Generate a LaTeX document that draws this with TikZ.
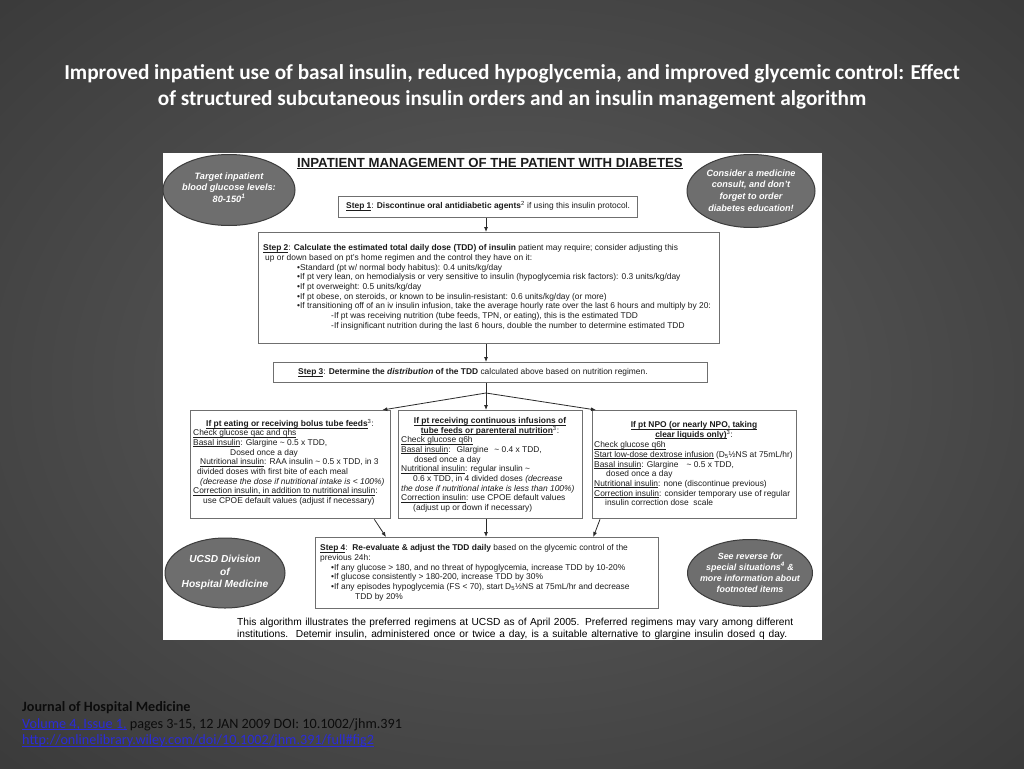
\documentclass[tikz,border=0pt]{standalone}
\usepackage{fontspec}
\setmainfont{Liberation Sans}
\newfontfamily\calib{Carlito}
\usetikzlibrary{shapes.geometric,arrows.meta,calc}
\definecolor{bgA}{HTML}{5E5E5E}
\definecolor{bgB}{HTML}{2C2C2C}
\definecolor{bgC}{HTML}{0E0E0E}
\definecolor{tx}{HTML}{1C1C1C}
\definecolor{boxc}{HTML}{6F6F6F}
\definecolor{arc}{HTML}{2A2A2A}
\definecolor{ellf}{HTML}{6E6E6E}
\definecolor{ellc}{HTML}{3C3C3C}
\definecolor{linkc}{HTML}{2B2BD8}
\definecolor{jtx}{HTML}{0C0C0C}
\pgfdeclareradialshading{bgshade}{\pgfpoint{0bp}{0bp}}{color(0bp)=(bgA); color(50bp)=(bgB); color(72bp)=(bgC)}
\newcommand{\dfnt}{\fontsize{8.4}{9.7}\selectfont}
\newcommand{\efnt}{\fontsize{9.2}{11.4}\selectfont\bfseries\itshape}
\newsavebox{\ulbox}
\newcommand{\myul}[1]{\sbox{\ulbox}{#1}\rlap{\rule[-1.3pt]{\wd\ulbox}{0.5pt}}\usebox{\ulbox}}
\newcommand{\sups}[1]{\smash{\textsuperscript{#1}}}
\newcommand{\st}{\rule{0pt}{6.5pt}}
\begin{document}
\begin{tikzpicture}[x=1pt,y=-1pt,
  bx/.style={draw=boxc, line width=1.3pt, fill=white, inner sep=0pt, anchor=north west},
  txt/.style={inner sep=0pt, anchor=north west, align=left, font=\dfnt, text=tx},
  ttl/.style={inner sep=0pt, anchor=north, align=center, font=\dfnt, text=tx},
  ell/.style={ellipse, draw=ellc, line width=1pt, fill=ellf, inner sep=0pt},
  elltxt/.style={inner sep=0pt, align=center, text=white, font=\efnt},
  arr/.style={draw=arc, line width=0.8pt, -{Latex[length=5pt,width=4pt]}},
  ln/.style={draw=arc, line width=0.8pt}]
\useasboundingbox (0,0) rectangle (1024,768);
\shade[shading=bgshade] (0,0) rectangle (1024,768);

% slide title
\node[inner sep=0pt, anchor=north, align=center, text=white, font=\calib\bfseries\fontsize{21.3}{26}\selectfont] (title) at (512,63)
 {\rule{0pt}{16pt}Improved inpatient use of basal insulin, reduced hypoglycemia, and improved glycemic control: Effect\\
 of structured subcutaneous insulin orders and an insulin management algorithm};

% white panel
\node[fill=white, inner sep=0pt, anchor=north west, minimum width=659pt, minimum height=487pt] (panel) at (163,153) {};

\node[inner sep=0pt, anchor=base west, text=tx, font=\fontsize{13.2}{15}\selectfont\bfseries] (ptitle) at (297,167.5)
 {\myul{INPATIENT MANAGEMENT OF THE PATIENT WITH DIABETES}};

% ellipses
\node[ell, minimum width=132pt, minimum height=71pt] (e1) at (229,190) {};
\node[elltxt] (e1t) at (229,187.5) {Target inpatient\\blood glucose levels:\\80-150\sups{1}};
\node[ell, minimum width=128pt, minimum height=73pt] (e2) at (751,191) {};
\node[elltxt, font=\fontsize{9.1}{11.7}\selectfont\bfseries\itshape] (e2t) at (751,190.5) {Consider a medicine\\consult, and don't\\forget to order\\diabetes education!};
\node[ell, minimum width=120pt, minimum height=70pt] (e3) at (225,573) {};
\node[elltxt, font=\fontsize{10.2}{12.5}\selectfont\bfseries\itshape] (e3t) at (225,572.5) {UCSD Division\\of\\Hospital Medicine};
\node[ell, minimum width=125pt, minimum height=67pt] (e4) at (750,573) {};
\node[elltxt, font=\fontsize{8.9}{11}\selectfont\bfseries\itshape] (e4t) at (750,572.5) {See reverse for\\special situations\sups{4} \&\\more information about\\footnoted items};

% step boxes
\node[bx, minimum width=299pt, minimum height=21pt] (s1) at (338,196) {};
\node[bx, minimum width=461pt, minimum height=111pt] (s2) at (258,232) {};
\node[bx, minimum width=434pt, minimum height=20pt] (s3) at (273,362) {};
\node[bx, minimum width=200pt, minimum height=108pt] (lb) at (190,410) {};
\node[bx, minimum width=184pt, minimum height=108pt] (mb) at (398,410) {};
\node[bx, minimum width=204pt, minimum height=108pt] (rb) at (592,410) {};
\node[bx, minimum width=343pt, minimum height=71pt] (s4) at (315,537) {};

% texts
\node[txt] (s1t) at (346,202) {\st\myul{\textbf{Step 1}}: \textbf{Discontinue oral antidiabetic agents}\sups{2} if using this insulin protocol.};

\node[txt] (s2t) at (263,244) {\st\myul{\textbf{Step 2}}: \textbf{Calculate the estimated total daily dose (TDD) of insulin} patient may require; consider adjusting this\\
\hspace*{2pt}up or down based on pt's home regimen and the control they have on it:\\
\hspace*{34pt}•Standard (pt w/ normal body habitus): 0.4 units/kg/day\\
\hspace*{34pt}•If pt very lean, on hemodialysis or very sensitive to insulin (hypoglycemia risk factors): 0.3 units/kg/day\\
\hspace*{34pt}•If pt overweight: 0.5 units/kg/day\\
\hspace*{34pt}•If pt obese, on steroids, or known to be insulin-resistant: 0.6 units/kg/day (or more)\\
\hspace*{34pt}•If transitioning off of an iv insulin infusion, take the average hourly rate over the last 6 hours and multiply by 20:\\
\hspace*{68pt}-If pt was receiving nutrition (tube feeds, TPN, or eating), this is the estimated TDD\\
\hspace*{68pt}-If insignificant nutrition during the last 6 hours, double the number to determine estimated TDD};

\node[txt] (s3t) at (298,368) {\st\myul{\textbf{Step 3}}: \textbf{Determine the \textit{distribution} of the TDD} calculated above based on nutrition regimen.};

\node[ttl] (lbh) at (290,420) {\st\myul{\textbf{If pt eating or receiving bolus tube feeds}}\sups{3}:};
\node[txt] (lbt) at (193,429) {\st\myul{Check glucose qac and qhs}\\
\myul{Basal insulin}: Glargine \textasciitilde\ 0.5 x TDD,\\
\hspace*{37pt}Dosed once a day\\
\hspace*{7pt}\myul{Nutritional insulin}: RAA insulin \textasciitilde\ 0.5 x TDD, in 3\\
\hspace*{4pt}divided doses with first bite of each meal\\
\hspace*{7pt}\textit{(decrease the dose if nutritional intake is < 100\%)}\\
\myul{Correction insulin, in addition to nutritional insulin}:\\
\hspace*{10pt}use CPOE default values (adjust if necessary)};

\node[ttl] (mbh) at (490,417) {\st\myul{\textbf{If pt receiving continuous infusions of}}\\\myul{\textbf{tube feeds or parenteral nutrition}}\sups{3}:};
\node[txt] (mbt) at (401,436) {\st\myul{Check glucose q6h}\\
\myul{Basal insulin}:\hspace{6pt}Glargine\hspace{6pt}\textasciitilde\ 0.4 x TDD,\\
\hspace*{13pt}dosed once a day\\
\myul{Nutritional insulin}: regular insulin \textasciitilde\\
\hspace*{12pt}0.6 x TDD, in 4 divided doses \textit{(decrease}\\
\textit{the dose if nutritional intake is less than 100\%)}\\
\myul{Correction insulin}: use CPOE default values\\
\hspace*{12pt}(adjust up or down if necessary)};

\node[ttl] (rbh) at (694,421) {\st\myul{\textbf{If pt NPO (or nearly NPO, taking}}\\\myul{\textbf{clear liquids only)}}\sups{3}:};
\node[txt] (rbt) at (594,441) {\st\myul{Check glucose q6h}\\
\myul{Start low-dose dextrose infusion} (D\textsubscript{5}½NS at 75mL/hr)\\
\myul{Basal insulin}: Glargine\hspace{8pt}\textasciitilde\ 0.5 x TDD,\\
\hspace*{12pt}dosed once a day\\
\myul{Nutritional insulin}: none (discontinue previous)\\
\myul{Correction insulin}: consider temporary use of regular\\
\hspace*{11pt}insulin correction dose\ \ scale};

\node[txt] (s4t) at (320,544) {\st\myul{\textbf{Step 4}}:\ \ \textbf{Re-evaluate \& adjust the TDD daily} based on the glycemic control of the\\
previous 24h:\\
\hspace*{11pt}•If any glucose > 180, and no threat of hypoglycemia, increase TDD by 10-20\%\\
\hspace*{11pt}•If glucose consistently > 180-200, increase TDD by 30\%\\
\hspace*{11pt}•If any episodes hypoglycemia (FS < 70), start D\textsubscript{5}½NS at 75mL/hr and decrease\\
\hspace*{35pt}TDD by 20\%};

\node[txt, font=\fontsize{10.2}{12}\selectfont, text=black] (note) at (237,617.8) {\rule{0pt}{7pt}\makebox[556pt][s]{This algorithm illustrates the preferred regimens at UCSD as of April 2005. Preferred regimens may vary among different}\\
\makebox[550pt][s]{institutions.\ \ Detemir insulin, administered once or twice a day, is a suitable alternative to glargine insulin dosed q day.}};

% connectors
\coordinate (br) at (486,393);
\draw[arr] (s1.south -| br) -- (s2.north -| br);
\draw[arr] (s2.south -| br) -- (s3.north -| br);
\draw[ln] (s3.south -| br) -- (br);
\draw[arr] (br) -- ([xshift=-9pt]lb.north east);
\draw[arr] (br) -- (mb.north -| br);
\draw[arr] (br) -- ([xshift=4pt]rb.north west);
\draw[arr] ([xshift=-17pt]lb.south east) -- ([xshift=71pt]s4.north west);
\draw[arr] (mb.south -| br) -- (s4.north -| br);
\draw[arr] ([xshift=8pt]rb.south west) -- ([xshift=-66pt]s4.north east);

% source footer
\node[inner sep=0pt, anchor=north west, align=left, text=jtx, font=\calib\fontsize{14.2}{16.5}\selectfont] (src) at (22,701)
 {\rule{0pt}{10.5pt}\textbf{Journal of Hospital Medicine}\\
 \textcolor{linkc}{\myul{Volume 4, Issue 1,}} pages 3-15, 12 JAN 2009 DOI: 10.1002/jhm.391\\
 \textcolor{linkc}{\myul{http://onlinelibrary.wiley.com/doi/10.1002/jhm.391/full\#fig2}}};
\end{tikzpicture}
\end{document}
